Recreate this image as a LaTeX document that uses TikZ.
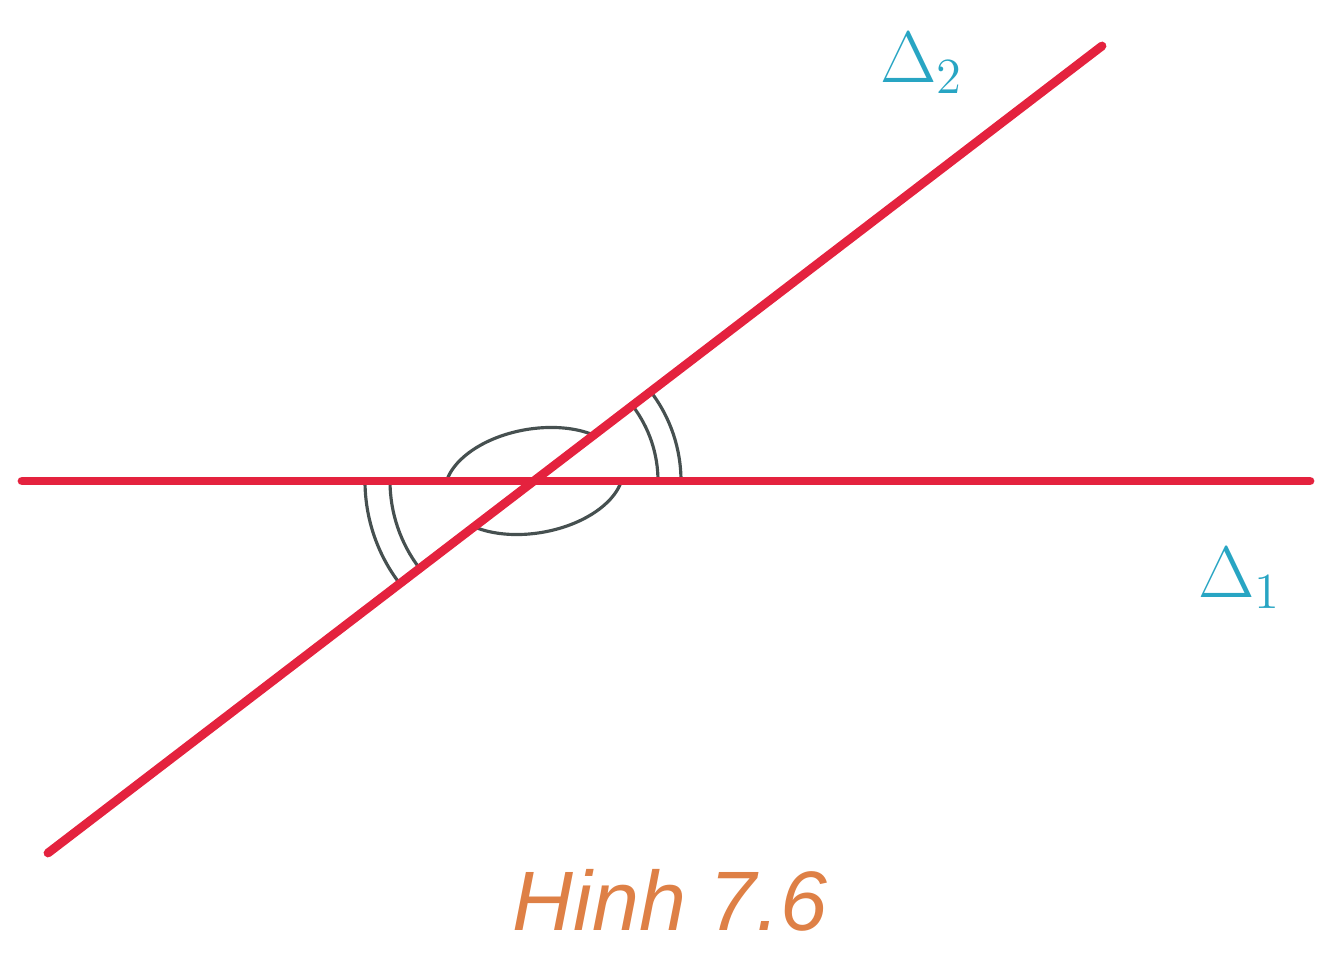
\documentclass[tikz,border=0pt]{standalone}
\usepackage{fontspec}
\newfontfamily\capfont{Liberation Sans}
\definecolor{linered}{RGB}{228,34,62}
\definecolor{labelblue}{RGB}{40,165,195}
\definecolor{caporange}{RGB}{222,128,70}
\definecolor{arcgray}{RGB}{70,80,80}
\tikzset{
    redline/.style={linered,line width=2.5pt,line cap=round},
    anglearc/.style={arcgray,line width=0.9pt},
    deltalabel/.style={text=labelblue,font=\fontsize{21}{25}\selectfont,inner sep=0pt}
}
\begin{document}
\begin{tikzpicture}
    \useasboundingbox (0,0) rectangle (13.36,9.78);
    %% Intersection and line ends
    \coordinate (O) at (5.34,4.97);
    \coordinate (A1) at (0.22,4.97);
    \coordinate (B1) at (13.10,4.97);
    \coordinate (A2) at (0.48,1.25);
    \coordinate (B2) at (11.02,9.32);
    %% Angle marks
    \draw[anglearc] ([shift={(0:1.24)}]O) arc (0:37.4:1.24);
    \draw[anglearc] ([shift={(0:1.47)}]O) arc (0:37.4:1.47);
    \draw[anglearc] ([shift={(180:1.44)}]O) arc (180:217.4:1.44);
    \draw[anglearc] ([shift={(180:1.69)}]O) arc (180:217.4:1.69);
    \draw[anglearc,shift={(O)},rotate=10] (41.9:0.9 and 0.52) arc[start angle=41.9,end angle=163,x radius=0.9,y radius=0.52];
    \draw[anglearc,shift={(O)},rotate=10] (221.9:0.9 and 0.52) arc[start angle=221.9,end angle=343,x radius=0.9,y radius=0.52];
    %% Lines
    \draw[redline] (A1) -- (B1);
    \draw[redline] (A2) -- (B2);
    %% Labels
    \node[deltalabel] (d2) at (9.22,9.15) {$\Delta_2$};
    \node[deltalabel] (d1) at (12.40,4.00) {$\Delta_1$};
    \node[text=caporange,font=\capfont\itshape\fontsize{24}{28}\selectfont] (cap) at (6.70,0.78) {Hinh 7.6};
\end{tikzpicture}
\end{document}
